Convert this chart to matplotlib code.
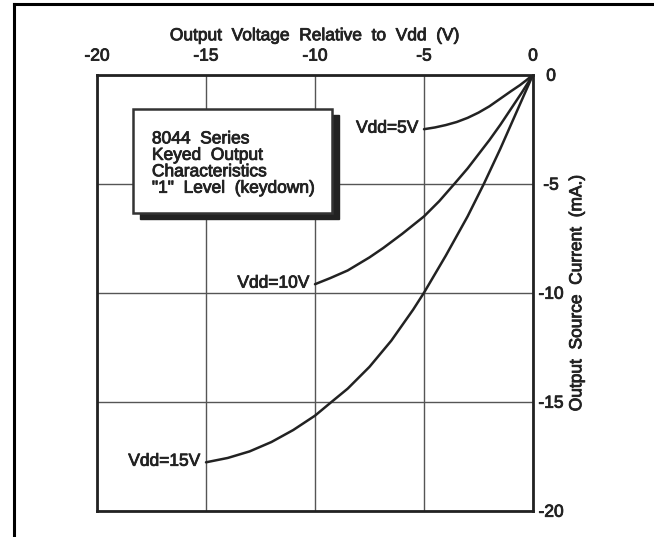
import matplotlib
matplotlib.use("Agg")
import matplotlib.pyplot as plt
import matplotlib.patheffects as pe
from matplotlib.patches import Rectangle

plt.rcParams['font.family'] = ['Liberation Sans', 'DejaVu Sans']

# Curves (V, mA)
v5 = [0, -0.3, -0.6, -1.0, -1.5, -2.0, -2.5, -3.0, -3.5, -4.0, -4.5, -5]
i5 = [0, -0.25, -0.48, -0.75, -1.1, -1.45, -1.74, -1.98, -2.17, -2.31, -2.42, -2.5]

v10 = [0, -0.5, -1, -1.5, -2, -3, -3.6, -4.3, -5, -6, -6.87, -7.5, -8.5, -9.3, -10]
i10 = [0, -0.8, -1.55, -2.3, -3.0, -4.3, -5, -5.8, -6.5, -7.3, -7.95, -8.38, -8.98, -9.33, -9.61]

v15 = [0, -0.75, -1.5, -2.25, -3, -4, -5, -5.5, -6.5, -7.5, -8.5, -9.23, -10,
       -11, -12, -13, -14, -15]
i15 = [0, -1.7, -3.4, -5, -6.5, -8.3, -10, -10.78, -12.2, -13.4, -14.4, -15.0, -15.64,
       -16.3, -16.85, -17.28, -17.58, -17.78]

curve_labels = ["Vdd=5V", "Vdd=10V", "Vdd=15V"]

xticks = [-20, -15, -10, -5, 0]
yticks = [0, -5, -10, -15, -20]

box_lines = ["8044  Series", "Keyed  Output", "Characteristics", "\"1\"  Level  (keydown)"]

ink = '#222222'
heavy = [pe.withStroke(linewidth=0.6, foreground=ink)]

fig = plt.figure(figsize=(6.54, 5.37), dpi=100)
ax = fig.add_axes([97 / 654, 1 - 510.7 / 537, 436 / 654, 436 / 537])

ax.set_xlim(-20, 0)
ax.set_ylim(-20, 0)
ax.grid(True, color='#555555', linewidth=1.0)
ax.set_axisbelow(True)
for s in ax.spines.values():
    s.set_linewidth(2.0)
    s.set_color(ink)

ax.xaxis.tick_top()
ax.xaxis.set_label_position('top')
ax.yaxis.tick_right()
ax.yaxis.set_label_position('right')
ax.set_xticks(xticks)
ax.set_xticklabels([str(t) for t in xticks])
ax.set_yticks(yticks)
ax.set_yticklabels([str(t) for t in yticks], ha='center')
ax.tick_params(length=0, labelsize=12.5, colors=ink)
ax.tick_params(axis='x', pad=8)
ax.tick_params(axis='y', pad=13)
for lab in ax.get_xticklabels() + ax.get_yticklabels():
    lab.set_path_effects(heavy)
ax.set_xlabel("Output  Voltage  Relative  to  Vdd  (V)", fontsize=12.5,
              color=ink, labelpad=6, path_effects=heavy)
ax.set_ylabel("Output  Source  Current  (mA.)", fontsize=12.5,
              color=ink, labelpad=4, rotation=90, path_effects=heavy)

for v, i in [(v5, i5), (v10, i10), (v15, i15)]:
    ax.plot(v, i, color=ink, linewidth=1.8, solid_capstyle='round')

for (v, i), lab in zip([(v5, i5), (v10, i10), (v15, i15)], curve_labels):
    ax.text(v[-1] - 0.25, i[-1] + 0.05, lab, ha='right', va='center',
            fontsize=12.5, color=ink, path_effects=heavy)

# text box with drop shadow
bx, by, bw, bh = -18.35, -6.34, 9.13, 4.77
off = 0.3
ax.add_patch(Rectangle((bx + off, by - off), bw, bh, facecolor=ink,
                       edgecolor=ink, zorder=4))
ax.add_patch(Rectangle((bx, by), bw, bh, facecolor='white',
                       edgecolor='#333333', linewidth=1.8, zorder=5))
ax.text(-17.48, -2.6, "\n".join(box_lines), ha='left', va='top', fontsize=12.5,
        color=ink, linespacing=1.12, zorder=6, path_effects=heavy)

# page frame lines (left and top)
fig.add_artist(plt.Line2D([14 / 654, 14 / 654], [0, 1 - 4 / 537],
                          color='black', linewidth=2.2, transform=fig.transFigure))
fig.add_artist(plt.Line2D([14 / 654, 1], [1 - 4 / 537, 1 - 4 / 537],
                          color='black', linewidth=2.2, transform=fig.transFigure))

fig.savefig("out.png", dpi=100)
